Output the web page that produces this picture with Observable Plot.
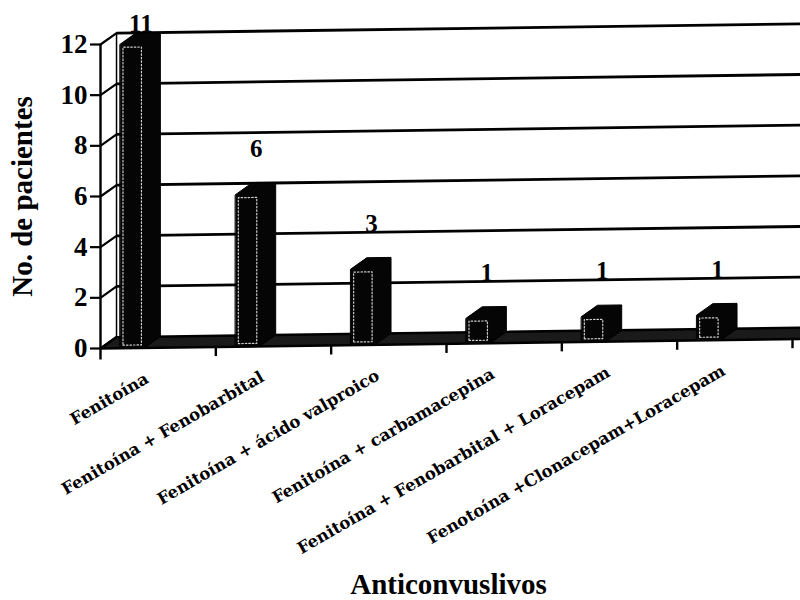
<!DOCTYPE html>
<html><head><meta charset="utf-8">
<script src="https://cdn.jsdelivr.net/npm/d3@7"></script>
<script src="https://cdn.jsdelivr.net/npm/@observablehq/plot@0.6"></script>
<style>body{margin:0;background:#fff}</style>
</head><body><div id="chart"></div>
<script>
// ---- data ----
const categorias = [
  "Fenitoína",
  "Fenitoína + Fenobarbital",
  "Fenitoína + ácido valproico",
  "Fenitoína + carbamacepina",
  "Fenitoína + Fenobarbital + Loracepam",
  "Fenotoína +Clonacepam+Loracepam"
];
const pacientes = [11, 6, 3, 1, 1, 1];        // value labels as printed
const alturaBarras = [12, 6, 3, 1, 1, 1];     // bar heights as drawn in the picture
const ticksY = [0, 2, 4, 6, 8, 10, 12];

// ---- pseudo-3D geometry (style only) ----
const DX = 0.139, DY = 0.44, TILT = 0.062, BX = 0.17, BW = 0.21, XR = 6.08;
const T = (x, v) => v + TILT * x;
const poly = (id, pts) => pts.map(([x, v]) => ({id, x, y: T(x, v)}));

const floor = poly("floor", [[0, 0], [XR, 0], [XR, DY], [DX, DY]]);
const grid = ticksY.filter(v => v > 0).flatMap(v => poly("g" + v, [[DX, v + DY], [XR, v + DY]]));
const diag = ticksY.flatMap(v => poly("d" + v, [[0, v], [DX, v + DY]]));
const backEdge = poly("be", [[DX, DY], [DX, ticksY[ticksY.length - 1] + DY]]);
const bars = alturaBarras.flatMap((h, i) => {
  const x0 = i + BX, x1 = x0 + BW;
  return poly("b" + i, [[x0, 0], [x1, 0], [x1 + DX, DY], [x1 + DX, h + DY], [x0 + DX, h + DY], [x0, h]]);
});
const faces = alturaBarras.flatMap((h, i) => {
  const x0 = i + BX + 0.025, x1 = i + BX + BW - 0.025;
  return poly("f" + i, [[x0, 0.12], [x1, 0.12], [x1, h - 0.12], [x0, h - 0.12]]);
});
const bounds = d3.range(1, categorias.length + 1);

const serif = "Liberation Serif";
const chart = Plot.plot({
  width: 800, height: 600,
  marginLeft: 100, marginRight: 8, marginTop: 44, marginBottom: 252,
  x: {domain: [0, 6], axis: null},
  y: {domain: [0, 12], axis: null},
  style: {fontFamily: serif, background: "white", color: "black", overflow: "visible"},
  marks: [
    Plot.line(grid, {x: "x", y: "y", z: "id", stroke: "black", strokeWidth: 2.8, strokeLinecap: "butt"}),
    Plot.line(diag, {x: "x", y: "y", z: "id", stroke: "black", strokeWidth: 2.2}),
    Plot.line(backEdge, {x: "x", y: "y", z: "id", stroke: "black", strokeWidth: 1.5}),
    Plot.line(floor, {x: "x", y: "y", z: "id", fill: "#1a1a1a", stroke: "black", strokeWidth: 2.5, curve: "linear-closed"}),
    Plot.ruleX(bounds, {x: d => d, y1: d => T(d, 0), y2: d => T(d, 0) - 0.38, stroke: "black", strokeWidth: 2.4}),
    Plot.ruleX([0], {y1: -0.45, y2: 12, stroke: "black", strokeWidth: 2.4}),
    Plot.axisY(ticksY, {tickSize: 10, tickPadding: 3, fontSize: 27, fontWeight: "bold", strokeWidth: 2.2, tickFormat: d => d, label: null}),
    Plot.text(pacientes, {x: (d, i) => i + 0.35, y: (d, i) => T(i + 0.35, d), text: d => String(d),
      lineAnchor: "bottom", dy: -37, fontSize: 25, fontWeight: "bold"}),
    Plot.line(bars, {x: "x", y: "y", z: "id", fill: "#050505", stroke: "black", strokeWidth: 1, curve: "linear-closed"}),
    Plot.line(faces, {x: "x", y: "y", z: "id", fill: "none", stroke: "#cfcfcf", strokeWidth: 1.2, strokeDasharray: "1.5 2", curve: "linear-closed"}),
    Plot.text(categorias, {x: (d, i) => i + 0.41, y: (d, i) => T(i + 0.41, 0), text: d => d,
      rotate: -30, textAnchor: "end", lineAnchor: "bottom", dy: 34, dx: 2, fontSize: 16.5,
      fontFamily: "DejaVu Serif", fontWeight: "bold"}),
    Plot.text(["No. de pacientes"], {frameAnchor: "left", textAnchor: "middle", lineAnchor: "middle", dx: -78, rotate: -90, fontSize: 29, fontWeight: "bold"}),
    Plot.text(["Anticonvuslivos"], {frameAnchor: "bottom", textAnchor: "middle", lineAnchor: "bottom", dy: 245, dx: 2, fontSize: 29, fontWeight: "bold"})
  ]
});
document.getElementById("chart").appendChild(chart);
</script>
</body></html>
